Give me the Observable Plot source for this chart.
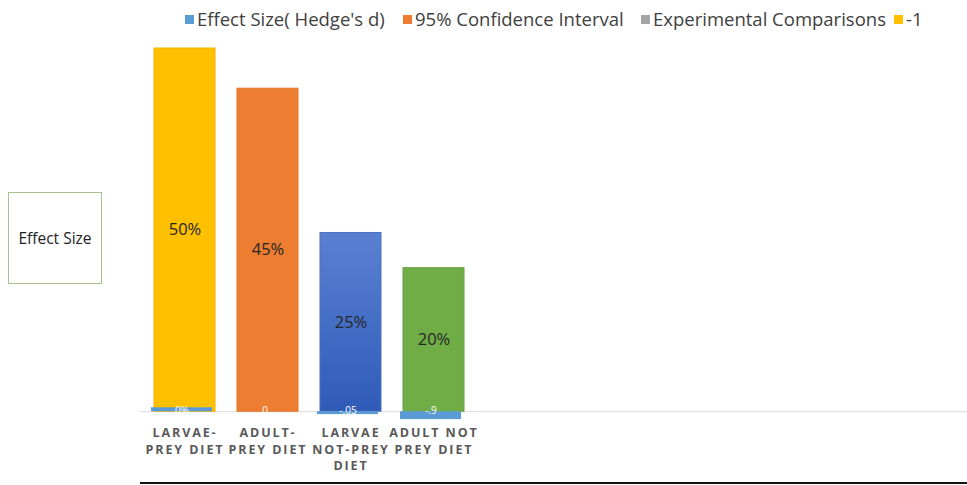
<!DOCTYPE html>
<html>
<head>
<meta charset="utf-8">
<script src="https://cdn.jsdelivr.net/npm/d3@7"></script>
<script src="https://cdn.jsdelivr.net/npm/@observablehq/plot@0.6"></script>
<style>
  html, body { margin: 0; padding: 0; background: #fff; }
  body { width: 967px; height: 485px; position: relative; overflow: hidden; font-family: "Open Sans", "Liberation Sans", sans-serif; }
  #legend { position: absolute; left: 0; top: 0; width: 967px; height: 38px; }
  .li { position: absolute; top: 7px; font-size: 18.5px; color: #404040; white-space: nowrap; line-height: 24px; }
  .sw { display: inline-block; width: 9px; height: 9px; margin-right: 3px; vertical-align: 2px; }
  #chart { position: absolute; left: 0; top: 38px; }
  #box { position: absolute; left: 8px; top: 192px; width: 92px; height: 90px; border: 1px solid #a9c08c; background: #fff;
         display: flex; align-items: center; justify-content: center; font-size: 15.5px; color: #222; }
  #bottomline { position: absolute; left: 140px; top: 482px; width: 827px; height: 2px; background: #111; }
</style>
</head>
<body>
<div id="legend"></div>
<div id="chart"></div>
<div id="box">Effect Size</div>
<div id="bottomline"></div>
<script>
// ---- data ----
const categories = ["LARVAE-\nPREY DIET", "ADULT-\nPREY DIET", "LARVAE\nNOT-PREY\nDIET", "ADULT NOT\nPREY DIET"];
const percentValues = [50.6, 45, 24.9, 20];
const percentLabels = ["50%", "45%", "25%", "20%"];
const barColors = ["#FFC000", "#ED7D31", "url(#blueGrad)", "#70AD47"];
const barStrokes = ["#EDB200", "#E17528", "#4A70C0", "#68A442"];
const effectSize = [0.55, 0, -0.4, -1.1];
const effectLabels = ["0%", "0", "-.05", "-.9"];
const legendNames = ["Effect Size( Hedge's d)", "95% Confidence Interval", "Experimental Comparisons", "-1"];
const legendColors = ["#5B9BD5", "#ED7D31", "#A5A5A5", "#FFC000"];
const legendX = [185, 403, 641, 894];

// legend
const lg = document.getElementById("legend");
legendNames.forEach((n, i) => {
  const d = document.createElement("div");
  d.className = "li";
  d.style.left = legendX[i] + "px";
  d.innerHTML = `<span class="sw" style="background:${legendColors[i]}"></span>`;
  d.appendChild(document.createTextNode(n));
  lg.appendChild(d);
});

const mainData = categories.map((c, i) => ({cat: c, v: percentValues[i], label: percentLabels[i], fill: barColors[i], stroke: barStrokes[i]}));
const esData = categories.map((c, i) => ({cat: c, v: effectSize[i], label: effectLabels[i]}));

const defs = () => {
  const ns = "http://www.w3.org/2000/svg";
  const d = document.createElementNS(ns, "defs");
  d.innerHTML = `<linearGradient id="blueGrad" x1="0" y1="0" x2="0" y2="1">
      <stop offset="0" stop-color="#5A80D2"/><stop offset="1" stop-color="#2F5BB8"/></linearGradient>`;
  return d;
};

const chart = Plot.plot({
  width: 967,
  height: 447,
  marginLeft: 140,
  marginRight: 0,
  marginTop: 10,
  marginBottom: 63,
  x: {domain: categories, range: [142, 476], paddingInner: 0.27, paddingOuter: 0.135, label: null},
  y: {domain: [-1.5, 50.6], axis: null},
  color: {type: "identity"},
  style: {fontFamily: "'Open Sans', sans-serif", background: "transparent"},
  marks: [
    defs,
    Plot.ruleY([0], {stroke: "#d9d9d9", strokeWidth: 1}),
    Plot.barY(mainData, {x: "cat", y: "v", fill: "fill", stroke: "stroke", strokeWidth: 1}),
    Plot.barY(esData, {x: "cat", y: "v", fill: "#5B9BD5", dx: -3}),
    Plot.text(mainData, {x: "cat", y: d => d.v / 2, text: "label", fill: "#262626", fontSize: 16.5}),
    Plot.text(esData, {x: "cat", y: 0, text: "label", fill: "#ffffff", fontSize: 10, dx: -3, dy: -1}),
    Plot.axisX({tickSize: 0, tickPadding: 3, fontSize: 12.5, fontWeight: "bold", fill: "#595959", lineHeight: 1.32})
  ]
});
d3.select(chart).selectAll("[aria-label='x-axis tick label'] text").style("letter-spacing", "1.9px");
document.getElementById("chart").appendChild(chart);
</script>
</body>
</html>
